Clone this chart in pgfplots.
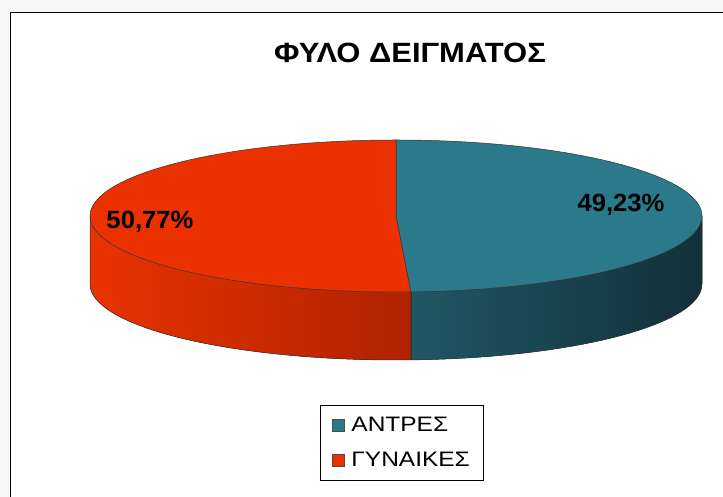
\documentclass[border=0pt]{standalone}
\usepackage{pgfplots}
\pgfplotsset{compat=1.18}
\usepackage{pgfplotstable}
\usepackage{graphicx}
\usepackage{fontspec}
\setmainfont{Liberation Sans}
\definecolor{bluetop}{HTML}{2B7A8B}
\definecolor{blueL}{HTML}{205764}
\definecolor{blueR}{HTML}{12303A}
\definecolor{redtop}{HTML}{EC3100}
\definecolor{redL}{HTML}{E83300}
\definecolor{redR}{HTML}{B02200}
\definecolor{bg}{HTML}{F6F6F6}
\pgfplotstableread{
label value
ANTRES 49.23
GYNAIKES 50.77
}\piedata
\pgfplotstablegetelem{0}{value}\of\piedata
\let\vA\pgfplotsretval
\pgfplotstablegetelem{1}{value}\of\piedata
\let\vB\pgfplotsretval
% geometry (pixel units, y up)
\def\cx{396}\def\cy{281}\def\rx{306}\def\ry{76}\def\dep{68}
\pgfmathsetmacro\aEnd{90-3.6*\vA}        % end angle of blue slice (clockwise from top)
\pgfmathsetmacro\aRed{360+\aEnd}         % same angle, for red side
\pgfmathsetmacro\bx{\cx+\rx*cos(\aEnd)}
\pgfmathsetmacro\by{\cy+\ry*sin(\aEnd)}
\pgfmathsetmacro\lx{\cx-\rx}
\pgfmathsetmacro\topy{\cy+\ry}
\newcommand\legtxt[1]{\scalebox{1.17}[1]{#1}}
\begin{document}
\begin{tikzpicture}
\begin{axis}[
  width=723bp, height=497bp, scale only axis,
  xmin=0, xmax=723, ymin=0, ymax=497,
  hide axis,
  legend style={at={(0.556,0.109)}, anchor=center, draw=black, line width=0.8pt,
    font=\fontsize{21}{24}\selectfont, row sep=15bp, inner xsep=12bp, inner ysep=10bp,
    cells={anchor=west}, nodes={inner xsep=2bp}},
  legend cell align=left,
]
% background and frame
\fill[bg] (axis cs:0,0) rectangle (axis cs:723,497);
\fill[white] (axis cs:10.5,0) rectangle (axis cs:723,484.5);
\draw[black, line width=1.3pt] (axis cs:10.5,0) -- (axis cs:10.5,484.5) -- (axis cs:723,484.5);
% title
\node[font=\bfseries\fontsize{28}{32}\selectfont, xscale=1.11] at (axis cs:410,444) {ΦΥΛΟ ΔΕΙΓΜΑΤΟΣ};
% sides
\fill[left color=redL, right color=redR]
  (axis cs:\lx,\cy) arc[start angle=180, end angle=\aRed, x radius=\rx bp, y radius=\ry bp]
  -- ++(0,-\dep bp) arc[start angle=\aRed, end angle=180, x radius=\rx bp, y radius=\ry bp] -- cycle;
\fill[left color=blueL, right color=blueR]
  (axis cs:\bx,\by) arc[start angle=\aRed, end angle=360, x radius=\rx bp, y radius=\ry bp]
  -- ++(0,-\dep bp) arc[start angle=360, end angle=\aRed, x radius=\rx bp, y radius=\ry bp] -- cycle;
\draw[black!80, line width=0.5pt]
  (axis cs:\lx,\cy) -- ++(0,-\dep bp) arc[start angle=180, end angle=360, x radius=\rx bp, y radius=\ry bp] -- ++(0,\dep bp);
\draw[black!80, line width=0.5pt] (axis cs:\bx,\by) -- ++(0,-\dep bp);
% top faces
\filldraw[fill=bluetop, draw=black!80, line width=0.5pt]
  (axis cs:\cx,\cy) -- (axis cs:\cx,\topy) arc[start angle=90, end angle=\aEnd, x radius=\rx bp, y radius=\ry bp] -- cycle;
\filldraw[fill=redtop, draw=black!80, line width=0.5pt]
  (axis cs:\cx,\cy) -- (axis cs:\cx,\topy) arc[start angle=90, end angle=\aRed, x radius=\rx bp, y radius=\ry bp] -- cycle;
% labels
\node[font=\bfseries\fontsize{25}{28}\selectfont, xscale=1.03] at (axis cs:150,275) {50,77\%};
\node[font=\bfseries\fontsize{25}{28}\selectfont, xscale=1.03] at (axis cs:621,292) {49,23\%};
% legend
\addlegendimage{legend image code/.code={\path[draw=none,fill=none] (0bp,0bp) -- (17bp,0bp); \filldraw[fill=bluetop, draw=black!70, line width=0.6pt] (0bp,-6bp) rectangle (12bp,6bp);}}
\addlegendentry{\legtxt{ΑΝΤΡΕΣ}}
\addlegendimage{legend image code/.code={\path[draw=none,fill=none] (0bp,0bp) -- (17bp,0bp); \filldraw[fill=redtop, draw=black!70, line width=0.6pt] (0bp,-6bp) rectangle (12bp,6bp);}}
\addlegendentry{\legtxt{ΓΥΝΑΙΚΕΣ}}
\end{axis}
\end{tikzpicture}
\end{document}
